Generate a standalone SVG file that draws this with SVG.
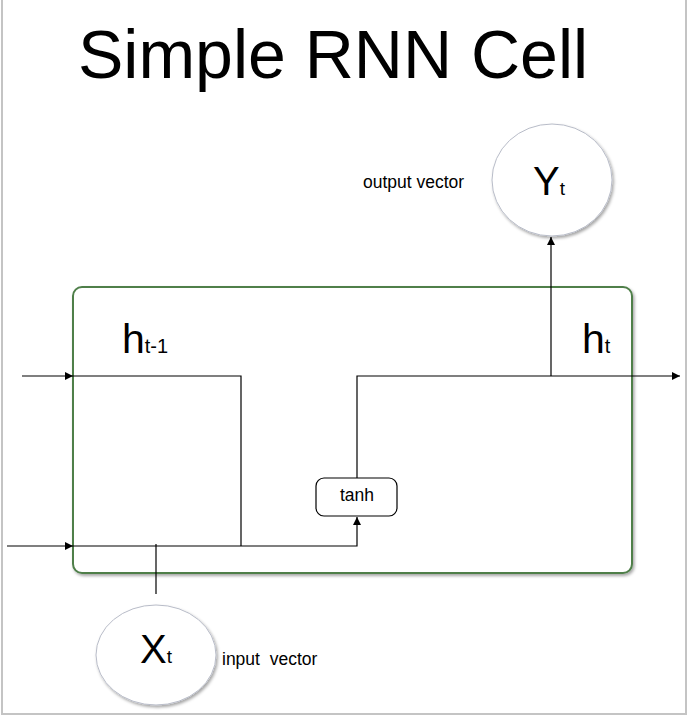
<svg xmlns="http://www.w3.org/2000/svg" width="687" height="716" viewBox="0 0 687 716">
<style>
.t{font-family:"Liberation Sans",Arial,sans-serif;fill:#000}
.ln{fill:none;stroke:#000;stroke-width:1.2}
.node{fill:#fff;stroke:#b8bcc8;stroke-width:1}
</style>
<defs>
<marker id="ah" viewBox="0 0 10 10" refX="10" refY="5" markerWidth="10" markerHeight="8" markerUnits="userSpaceOnUse" orient="auto">
<path d="M0,0 L10,5 L0,10 z" fill="#000"/>
</marker>
<filter id="sh" x="-20%" y="-20%" width="140%" height="140%">
<feDropShadow dx="1.5" dy="2" stdDeviation="1.5" flood-color="#000" flood-opacity="0.35"/>
</filter>
</defs>
<rect width="687" height="716" fill="#fff"/>
<path d="M2,0 V714 H686 V0" fill="none" stroke="#c4c4c4" stroke-width="2"/>
<text class="t" x="78" y="78" font-size="68">Simple RNN Cell</text>
<g id="cell">
<rect x="73" y="287" width="559" height="286" rx="9" fill="#fff" stroke="#4f7f4a" stroke-width="2" filter="url(#sh)"/>
<text class="t" x="122" y="353" font-size="41">h<tspan font-size="20">t-1</tspan></text>
<text class="t" x="582" y="353" font-size="41">h<tspan font-size="20">t</tspan></text>
</g>
<g id="output">
<ellipse class="node" cx="552" cy="180" rx="60" ry="56" filter="url(#sh)"/>
<text class="t" x="533" y="195" font-size="40">Y<tspan font-size="19">t</tspan></text>
<text class="t" x="363" y="188" font-size="17.5">output vector</text>
</g>
<g id="input">
<ellipse class="node" cx="156" cy="655" rx="60" ry="50" filter="url(#sh)"/>
<text class="t" x="140" y="663" font-size="40">X<tspan font-size="19">t</tspan></text>
<text class="t" x="222" y="665" font-size="17.5" xml:space="preserve">input  vector</text>
</g>
<g id="tanh">
<rect x="316" y="478" width="81" height="38" rx="8" fill="#fff" stroke="#000" stroke-width="1.2"/>
<text class="t" x="357" y="501" font-size="17.5" text-anchor="middle">tanh</text>
</g>
<g id="connectors">
<path class="ln" d="M22,376 H73" marker-end="url(#ah)"/>
<path class="ln" d="M73,376 H241 V546"/>
<path class="ln" d="M7,546 H73" marker-end="url(#ah)"/>
<path class="ln" d="M73,546 H357 V517" marker-end="url(#ah)"/>
<path class="ln" d="M156,544 V594"/>
<path class="ln" d="M357,478 V376 H680" marker-end="url(#ah)"/>
<path class="ln" d="M551,376 V237" marker-end="url(#ah)"/>
</g>
</svg>
